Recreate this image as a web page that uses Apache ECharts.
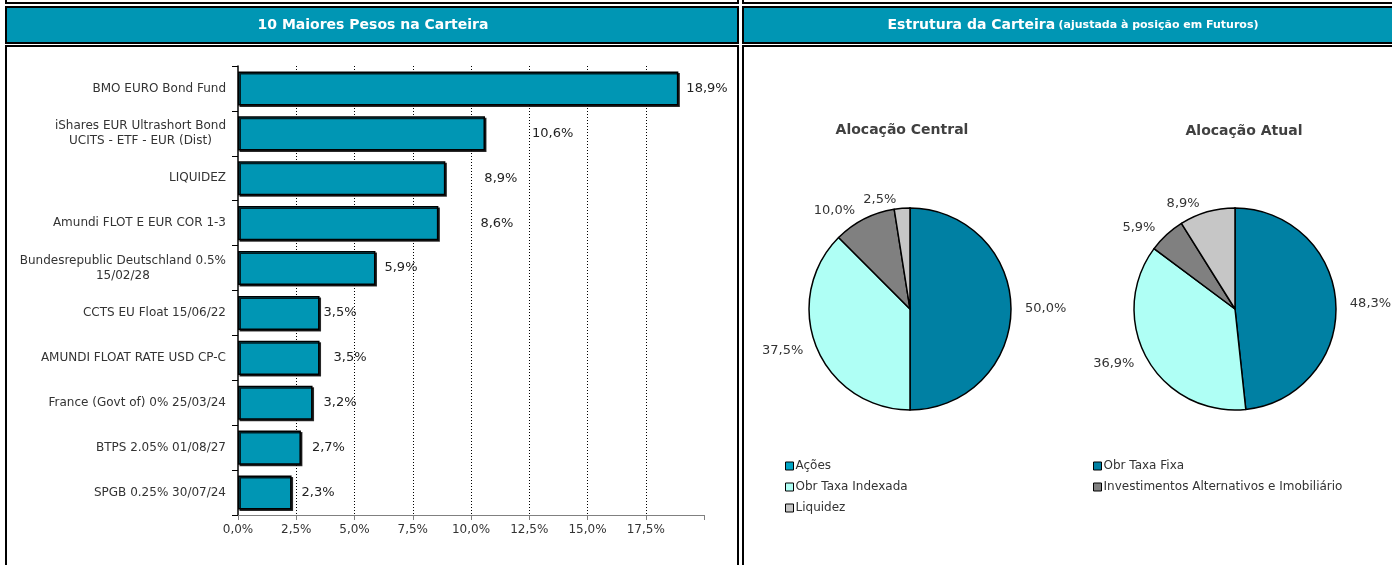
<!DOCTYPE html>
<html>
<head>
<meta charset="utf-8">
<script src="https://cdn.jsdelivr.net/npm/echarts@6/dist/echarts.min.js"></script>
<style>
  html, body { margin: 0; padding: 0; background: #fff; }
  #main { width: 1392px; height: 565px; }
</style>
</head>
<body>
<div id="main"></div>
<script>
// top 10 holdings
var holdings = [
  'BMO EURO Bond Fund',
  'iShares EUR Ultrashort Bond\nUCITS - ETF - EUR (Dist)',
  'LIQUIDEZ',
  'Amundi FLOT E EUR COR 1-3',
  'Bundesrepublic Deutschland 0.5%\n15/02/28',
  'CCTS EU Float 15/06/22',
  'AMUNDI FLOAT RATE USD CP-C',
  'France (Govt of) 0% 25/03/24',
  'BTPS 2.05% 01/08/27',
  'SPGB 0.25% 30/07/24'
];
var weights = [18.9, 10.6, 8.9, 8.6, 5.9, 3.5, 3.5, 3.2, 2.7, 2.3];
var xTicks = [0, 2.5, 5, 7.5, 10, 12.5, 15, 17.5];

// portfolio structure
var classes = ['Ações', 'Obr Taxa Fixa', 'Obr Taxa Indexada', 'Investimentos Alternativos e Imobiliário', 'Liquidez'];
var central = [0, 50.0, 37.5, 10.0, 2.5];
var atual = [0, 48.3, 36.9, 5.9, 8.9];

var classColors = ['#00A6C6', '#0080A3', '#AFFFF5', '#808080', '#C6C6C6'];
var labelGap = [8, 47, 39, 42, 9, 4, 14, 11, 11, 10]; // excel puts these where it likes

var chart = echarts.init(document.getElementById('main'));

function pct(v) {
  return v.toFixed(1).replace('.', ',') + '%';
}

function pieData(vals) {
  return classes.map(function (n, i) {
    return { name: n, value: vals[i], itemStyle: { color: classColors[i] } };
  });
}

function pieSeries(vals, center) {
  return {
    type: 'pie',
    center: center,
    radius: 101,
    startAngle: 90,
    clockwise: true,
    avoidLabelOverlap: false,
    silent: true,
    data: pieData(vals),
    itemStyle: { borderColor: '#000', borderWidth: 1.5 },
    label: {
      show: true,
      position: 'outside',
      fontSize: 13,
      color: '#333',
      fontFamily: 'DejaVu Sans',
      formatter: function (p) { return p.value ? pct(p.value) : ''; }
    },
    labelLine: { show: false, length: 9, length2: 0 }
  };
}

var font = 'DejaVu Sans';

var option = {
  animation: false,
  textStyle: { fontFamily: font },
  graphic: [
    // remains of the box above
    { type: 'rect', shape: { x: 6, y: -20, width: 732, height: 23 }, style: { fill: 'none', stroke: '#000', lineWidth: 2 } },
    { type: 'rect', shape: { x: 743, y: -20, width: 680, height: 23 }, style: { fill: 'none', stroke: '#000', lineWidth: 2 } },
    // headers
    { type: 'rect', shape: { x: 6, y: 7, width: 732, height: 36 }, style: { fill: '#0096B4', stroke: '#000', lineWidth: 2 } },
    { type: 'rect', shape: { x: 743, y: 7, width: 680, height: 36 }, style: { fill: '#0096B4', stroke: '#000', lineWidth: 2 } },
    { type: 'text', x: 373, y: 25, style: { text: '10 Maiores Pesos na Carteira', fill: '#fff', font: 'bold 14px DejaVu Sans', align: 'center', verticalAlign: 'middle' } },
    {
      type: 'text', x: 1073, y: 25,
      style: {
        text: '{a|Estrutura da Carteira} {b|(ajustada à posição em Futuros)}',
        align: 'center', verticalAlign: 'middle',
        rich: {
          a: { fill: '#fff', fontSize: 14, fontWeight: 'bold', fontFamily: font },
          b: { fill: '#fff', fontSize: 11, fontWeight: 'bold', fontFamily: font }
        }
      }
    },
    // panels
    { type: 'rect', shape: { x: 6, y: 46, width: 732, height: 540 }, style: { fill: 'none', stroke: '#000', lineWidth: 2 } },
    { type: 'rect', shape: { x: 743, y: 46, width: 680, height: 540 }, style: { fill: 'none', stroke: '#000', lineWidth: 2 } },
    // pie titles
    { type: 'text', x: 902, y: 130, style: { text: 'Alocação Central', fill: '#404040', font: 'bold 14px DejaVu Sans', align: 'center', verticalAlign: 'middle' } },
    { type: 'text', x: 1244, y: 131, style: { text: 'Alocação Atual', fill: '#404040', font: 'bold 14px DejaVu Sans', align: 'center', verticalAlign: 'middle' } }
  ],
  grid: { left: 238, top: 66, width: 466, height: 449 },
  xAxis: {
    type: 'value',
    min: 0,
    max: 20,
    interval: 2.5,
    axisLine: { show: true, lineStyle: { color: '#808080', width: 1 } },
    axisTick: { show: true, length: 5, lineStyle: { color: '#808080' } },
    axisLabel: {
      color: '#333',
      fontSize: 12,
      margin: 9,
      formatter: function (v) { return xTicks.indexOf(v) >= 0 ? pct(v) : ''; }
    },
    splitLine: {
      show: true,
      showMinLine: false,
      showMaxLine: false,
      lineStyle: { color: '#000', width: 1, type: [1, 2] }
    }
  },
  yAxis: {
    type: 'category',
    inverse: true,
    data: holdings,
    axisLine: { show: true, lineStyle: { color: '#000', width: 1.5 } },
    axisTick: { show: true, length: 6, lineStyle: { color: '#000' } },
    axisLabel: {
      margin: 12,
      color: '#333',
      fontSize: 12,
      formatter: function (v) {
        return v.split('\n').map(function (s) { return '{c|' + s + '}'; }).join('\n');
      },
      rich: { c: { align: 'center', fontSize: 12, color: '#333', lineHeight: 15 } }
    }
  },
  legend: [
    {
      data: ['Ações', 'Obr Taxa Indexada', 'Liquidez'],
      orient: 'vertical',
      left: 780, top: 455,
      icon: 'rect',
      itemWidth: 8, itemHeight: 8, itemGap: 9,
      selectedMode: false,
      itemStyle: { borderColor: '#000', borderWidth: 1 },
      textStyle: { fontSize: 12, color: '#333', padding: [0, 0, 0, -3] }
    },
    {
      data: ['Obr Taxa Fixa', 'Investimentos Alternativos e Imobiliário'],
      orient: 'vertical',
      left: 1088, top: 455,
      icon: 'rect',
      itemWidth: 8, itemHeight: 8, itemGap: 9,
      selectedMode: false,
      itemStyle: { borderColor: '#000', borderWidth: 1 },
      textStyle: { fontSize: 12, color: '#333', padding: [0, 0, 0, -3] }
    }
  ],
  series: [
    {
      type: 'bar',
      barCategoryGap: '24%',
      silent: true,
      data: weights.map(function (v, i) {
        return { value: v, label: { distance: labelGap[i] } };
      }),
      itemStyle: {
        color: '#0096B4',
        borderColor: '#000',
        borderWidth: 1.5,
        shadowColor: 'rgba(0,0,0,0.8)',
        shadowOffsetX: 1.5,
        shadowOffsetY: 1.5
      },
      label: {
        show: true,
        position: 'right',
        fontSize: 13,
        color: '#222',
        formatter: function (p) { return pct(p.value); }
      }
    },
    pieSeries(central, [910, 309]),
    pieSeries(atual, [1235, 309])
  ]
};

chart.setOption(option);
</script>
</body>
</html>
